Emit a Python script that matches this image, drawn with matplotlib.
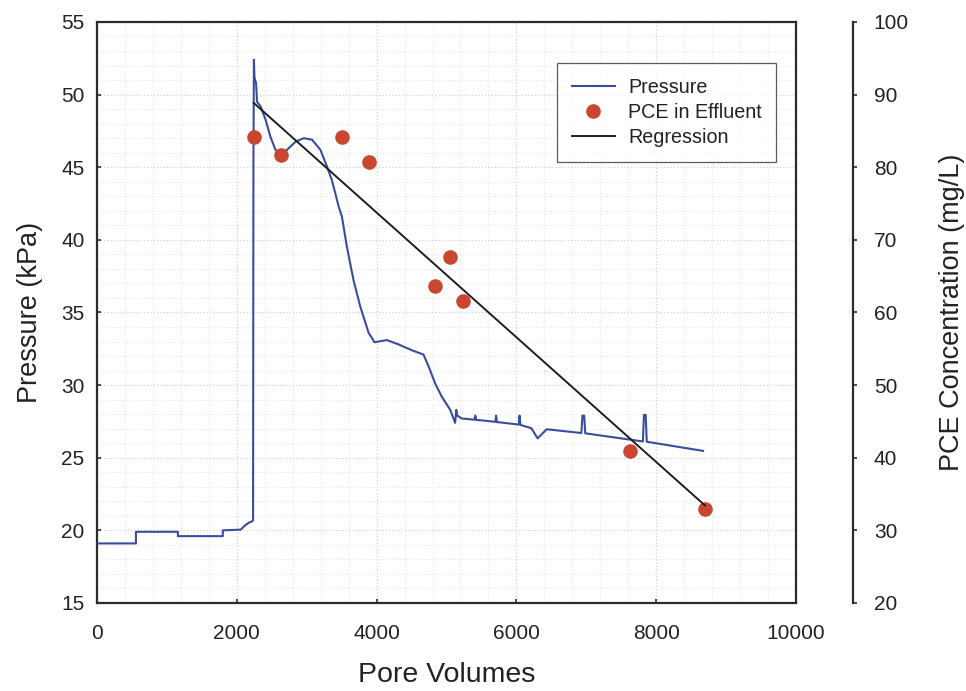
import numpy as np
import matplotlib
matplotlib.use("Agg")
import matplotlib.pyplot as plt
from matplotlib.ticker import MultipleLocator, FixedLocator
from matplotlib.lines import Line2D

plt.rcParams["font.family"] = ["Liberation Sans", "DejaVu Sans"]

# Column pressure record (pore volumes vs kPa)
pressure_pv = [0, 557, 557, 1157, 1157, 1800, 1800, 2057, 2120, 2180, 2214, 2233,
               2238, 2245, 2253, 2262, 2276, 2290, 2339, 2410, 2481, 2553, 2624,
               2719, 2839, 2957, 3076, 3196, 3290, 3361, 3410, 3457, 3504, 3576,
               3671, 3767, 3886, 3971, 4147, 4314, 4504, 4671, 4743, 4839, 4933,
               5053, 5124, 5140, 5155, 5219, 5400, 5412, 5426, 5486, 5700, 5710,
               5722, 5790, 6035, 6045, 6058, 6214, 6304, 6433, 6930, 6945, 6970,
               6985, 7810, 7825, 7850, 7865, 8671]
pressure_kpa = [19.1, 19.1, 19.9, 19.9, 19.6, 19.6, 20.0, 20.05, 20.35, 20.55, 20.6, 20.7,
                45.0, 52.4, 51.2, 51.0, 50.8, 49.5, 49.2, 48.3, 47.1, 46.2, 45.85,
                46.2, 46.75, 47.0, 46.9, 46.2, 45.05, 44.1, 43.2, 42.3, 41.6, 39.5,
                37.2, 35.4, 33.6, 32.95, 33.1, 32.8, 32.4, 32.1, 31.3, 30.1, 29.2,
                28.3, 27.4, 28.3, 27.9, 27.7, 27.62, 27.9, 27.6, 27.58, 27.47, 27.9,
                27.45, 27.42, 27.28, 27.9, 27.26, 27.03, 26.33, 26.96, 26.7, 27.9, 27.9,
                26.68, 26.12, 27.95, 27.95, 26.1, 25.47]

# PCE effluent samples (pore volumes vs mg/L)
pce_pv = [2243, 2629, 3500, 3886, 4829, 5057, 5243, 7629, 8700]
pce_mgL = [84.2, 81.7, 84.2, 80.7, 63.7, 67.7, 61.6, 40.9, 32.9]

x_ticks = [0, 2000, 4000, 6000, 8000, 10000]
p_ticks = [15, 20, 25, 30, 35, 40, 45, 50, 55]
c_ticks = [20, 30, 40, 50, 60, 70, 80, 90, 100]

blue = "#3a4c9c"
red = "#c9472e"
frame = "#2b2b2b"
text_c = "#222222"

fig = plt.figure(figsize=(9.66, 6.91), dpi=100)
ax = fig.add_axes([0.1004, 0.1274, 0.7236, 0.8408])
ax.set_xlim(0, 10000)
ax.set_ylim(15, 55)
ax.set_xticks(x_ticks)
ax.set_yticks(p_ticks)
ax.xaxis.set_minor_locator(MultipleLocator(400))
ax.yaxis.set_minor_locator(MultipleLocator(1))
ax.grid(which="major", color="#d2d2d2", linestyle=":", linewidth=0.9)
ax.grid(which="minor", color="#e6e6e6", linestyle=":", linewidth=0.8)
ax.set_axisbelow(True)
for s in ax.spines.values():
    s.set_color(frame)
    s.set_linewidth(1.6)
ax.tick_params(which="major", direction="in", length=3, width=1.2, color=frame,
               labelsize=15, labelcolor=text_c)
ax.tick_params(axis="x", pad=15)
ax.tick_params(axis="y", pad=9)
ax.tick_params(which="minor", length=0)

ax.plot(pressure_pv, pressure_kpa, color=blue, linewidth=1.5, zorder=3)

ax.set_xlabel("Pore Volumes", fontsize=20.5, color=text_c, labelpad=14)
ax.set_ylabel("Pressure (kPa)", fontsize=19.5, color=text_c, labelpad=13)

# secondary concentration axis, offset to the right of the frame
ax2 = ax.twinx()
ax2.set_ylim(20, 100)
for side in ["top", "left", "bottom"]:
    ax2.spines[side].set_visible(False)
ax2.spines["right"].set_position(("outward", 41))
ax2.spines["right"].set_color(frame)
ax2.spines["right"].set_linewidth(1.6)
ax2.yaxis.set_major_locator(FixedLocator(c_ticks))
ax2.yaxis.set_minor_locator(FixedLocator([c_ticks[0], c_ticks[-1]]))
ax2.tick_params(which="major", direction="out", length=3, width=1.2, color=frame,
                labelsize=15, labelcolor=text_c, pad=12)
ax2.tick_params(which="minor", direction="out", length=9, width=1.6, color=frame)
ax2.set_ylabel("PCE Concentration (mg/L)", fontsize=19.5, color=text_c, labelpad=22)

ax2.plot(pce_pv, pce_mgL, linestyle="none", marker="o", markersize=10.5,
         color=red, markeredgewidth=0, zorder=3)

coef = np.polyfit(pce_pv, pce_mgL, 1)
reg_x = np.array([min(pce_pv), max(pce_pv)])
ax2.plot(reg_x, np.polyval(coef, reg_x), color="#1e1e1e", linewidth=1.4, zorder=4)

handles = [
    Line2D([], [], color=blue, linewidth=1.5),
    Line2D([], [], linestyle="none", marker="o", markersize=10.5, color=red, markeredgewidth=0),
    Line2D([], [], color="#1e1e1e", linewidth=1.4),
]
leg = ax2.legend(handles, ["Pressure", "PCE in Effluent", "Regression"],
                 loc="upper left", bbox_to_anchor=(0.658, 0.929), borderaxespad=0,
                 fontsize=14.2, frameon=True, fancybox=False, handlelength=2.2,
                 handletextpad=0.65, labelspacing=0.3, borderpad=0.75)
leg.get_frame().set_edgecolor("#333333")
leg.get_frame().set_linewidth(0.9)
for t in leg.get_texts():
    t.set_color(text_c)

fig.savefig("out.png", dpi=100)
